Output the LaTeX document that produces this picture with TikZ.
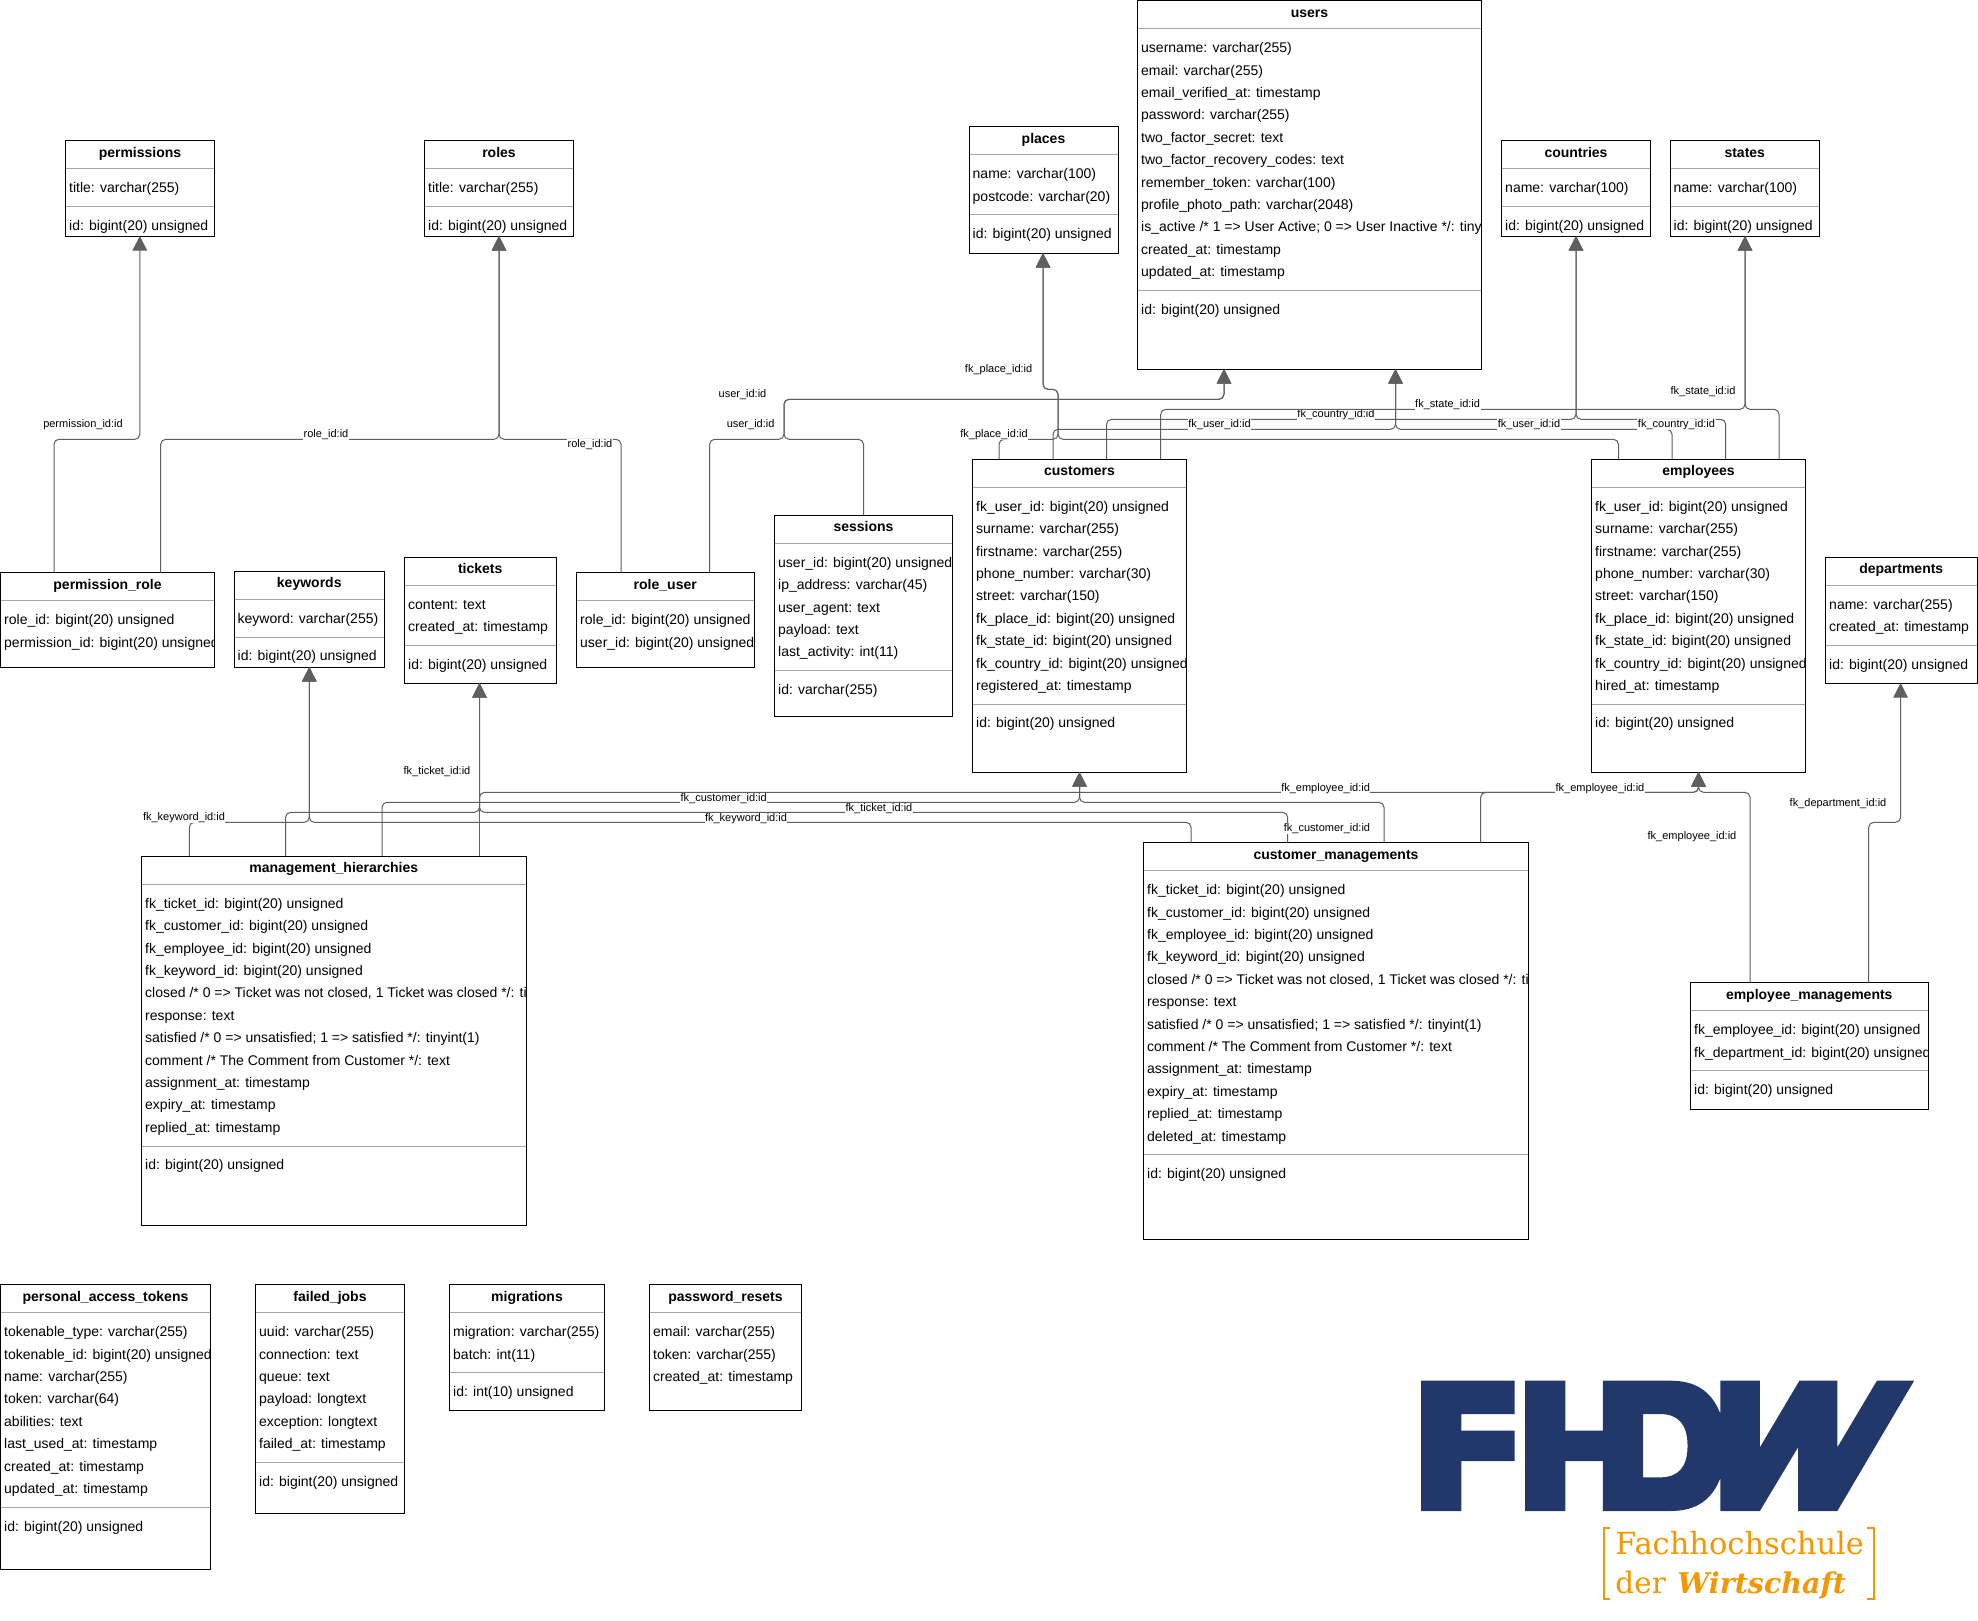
\documentclass[tikz,border=0pt]{standalone}
\usepackage{fontspec}
\setmainfont{Liberation Sans}
\newfontfamily\logofont{DejaVu Serif}
\usetikzlibrary{arrows.meta}
\definecolor{conn}{HTML}{5F5F5F}
\definecolor{sepgray}{HTML}{A6A6A6}
\definecolor{fhblue}{HTML}{22386A}
\definecolor{fhorange}{HTML}{F39800}
\tikzset{
  tablebox/.style={draw=black,line width=1pt,fill=white,inner sep=0pt,outer sep=0pt},
  tabletitle/.style={font=\fontsize{14}{16}\selectfont\bfseries,inner sep=0pt,anchor=base},
  tablefield/.style={font=\fontsize{14}{22.4}\selectfont,align=left,inner sep=0pt,anchor=north west},
  tablesep/.style={draw=sepgray,line width=1pt},
  fkline/.style={draw=conn,line width=1pt,rounded corners=5pt},
  fkarrow/.style={fkline,-{Triangle[length=14.5pt,width=14.5pt,fill=conn]}},
  fklabel/.style={font=\fontsize{11}{13}\selectfont,fill=white,inner xsep=0.5pt,inner ysep=0.3pt,text height=8.2pt,text depth=2.4pt,yshift=-1.5pt},
}
\catcode`\_=12
\newcommand\dbtable[9]{%
  \pgfmathsetmacro\tblw{#4-(#2)}\pgfmathsetmacro\tblh{#5-(#3)}%
  \pgfmathsetmacro\tblcx{(#2+#4)/2}\pgfmathsetmacro\tblcy{(#3+#5)/2}%
  \pgfmathsetmacro\tblsep{#3+47.5+22.4*(#7-1)+18.5}%
  \node[tablebox,minimum width=\tblw pt,minimum height=\tblh pt] (#1) at (\tblcx,\tblcy) {};
  \node[tabletitle] (#1title) at (\tblcx,{#3+16.7}) {#6};
  \draw[tablesep] (#2,{#3+28}) -- (#4,{#3+28});
  \begin{scope}
    \clip (#2,#3) rectangle (#4,#5);
    \node[tablefield] (#1fields) at ({#2+3.5},{#3+37.5}) {\rule{0pt}{14.5pt}#8};
    \if\relax\detokenize{#9}\relax\else
      \node[tablefield] (#1id) at ({#2+3.5},{\tblsep+9}) {\rule{0pt}{14.5pt}#9};
    \fi
  \end{scope}
  \if\relax\detokenize{#9}\relax\else
    \draw[tablesep] (#2,\tblsep) -- (#4,\tblsep);
  \fi
  \draw[black,line width=1pt] (#1.south west) rectangle (#1.north east);
}
\begin{document}
\begin{tikzpicture}[x=1pt,y=-1pt]
\useasboundingbox (0,0) rectangle (1978,1620);
\fill[white] (0,0) rectangle (1978,1620);
\def\bigu{bigint(20) unsigned}
\dbtable{users}{1137.5}{0.5}{1481.5}{369}{users}{11}{username: varchar(255)\\email: varchar(255)\\email_verified_at: timestamp\\password: varchar(255)\\two_factor_secret: text\\two_factor_recovery_codes: text\\remember_token: varchar(100)\\profile_photo_path: varchar(2048)\\is_active /* 1 => User Active; 0 => User Inactive */: tiny\\created_at: timestamp\\updated_at: timestamp}{id: \bigu}
\dbtable{permissions}{65.5}{140.5}{214.5}{236}{permissions}{1}{title: varchar(255)}{id: \bigu}
\dbtable{roles}{424.5}{140.5}{573.5}{236}{roles}{1}{title: varchar(255)}{id: \bigu}
\dbtable{places}{969}{126.5}{1118}{253}{places}{2}{name: varchar(100)\\postcode: varchar(20)}{id: \bigu}
\dbtable{countries}{1501.5}{140.5}{1650.5}{236}{countries}{1}{name: varchar(100)}{id: \bigu}
\dbtable{states}{1670}{140.5}{1819.5}{236}{states}{1}{name: varchar(100)}{id: \bigu}
\dbtable{customers}{972.5}{459}{1186.5}{772}{customers}{9}{fk_user_id: \bigu\\surname: varchar(255)\\firstname: varchar(255)\\phone_number: varchar(30)\\street: varchar(150)\\fk_place_id: \bigu\\fk_state_id: \bigu\\fk_country_id: \bigu\\registered_at: timestamp}{id: \bigu}
\dbtable{employees}{1591.5}{459}{1805.5}{772}{employees}{9}{fk_user_id: \bigu\\surname: varchar(255)\\firstname: varchar(255)\\phone_number: varchar(30)\\street: varchar(150)\\fk_place_id: \bigu\\fk_state_id: \bigu\\fk_country_id: \bigu\\hired_at: timestamp}{id: \bigu}
\dbtable{permissionrole}{0.5}{572.5}{214.5}{667}{permission_role}{2}{role_id: \bigu\\permission_id: \bigu}{}
\dbtable{keywords}{234}{571}{384.5}{667}{keywords}{1}{keyword: varchar(255)}{id: \bigu}
\dbtable{tickets}{404.5}{557}{556}{683}{tickets}{2}{content: text\\created_at: timestamp}{id: \bigu}
\dbtable{roleuser}{576.5}{572.5}{754}{667}{role_user}{2}{role_id: \bigu\\user_id: \bigu}{}
\dbtable{sessions}{774.5}{515}{952.5}{716}{sessions}{5}{user_id: \bigu\\ip_address: varchar(45)\\user_agent: text\\payload: text\\last_activity: int(11)}{id: varchar(255)}
\dbtable{departments}{1825.5}{557}{1977}{683}{departments}{2}{name: varchar(255)\\created_at: timestamp}{id: \bigu}
\dbtable{mh}{141.5}{856}{526}{1225}{management_hierarchies}{11}{fk_ticket_id: \bigu\\fk_customer_id: \bigu\\fk_employee_id: \bigu\\fk_keyword_id: \bigu\\closed /* 0 => Ticket was not closed, 1 Ticket was closed */: ti\\response: text\\satisfied /* 0 => unsatisfied; 1 => satisfied */: tinyint(1)\\comment /* The Comment from Customer */: text\\assignment_at: timestamp\\expiry_at: timestamp\\replied_at: timestamp}{id: \bigu}
\dbtable{cm}{1143.5}{842.5}{1528.5}{1239}{customer_managements}{12}{fk_ticket_id: \bigu\\fk_customer_id: \bigu\\fk_employee_id: \bigu\\fk_keyword_id: \bigu\\closed /* 0 => Ticket was not closed, 1 Ticket was closed */: ti\\response: text\\satisfied /* 0 => unsatisfied; 1 => satisfied */: tinyint(1)\\comment /* The Comment from Customer */: text\\assignment_at: timestamp\\expiry_at: timestamp\\replied_at: timestamp\\deleted_at: timestamp}{id: \bigu}
\dbtable{em}{1690.5}{982.5}{1928}{1109}{employee_managements}{2}{fk_employee_id: \bigu\\fk_department_id: \bigu}{id: \bigu}
\dbtable{pat}{0.5}{1284.5}{210.5}{1569}{personal_access_tokens}{8}{tokenable_type: varchar(255)\\tokenable_id: \bigu\\name: varchar(255)\\token: varchar(64)\\abilities: text\\last_used_at: timestamp\\created_at: timestamp\\updated_at: timestamp}{id: \bigu}
\dbtable{failedjobs}{255.5}{1284.5}{404.5}{1513}{failed_jobs}{6}{uuid: varchar(255)\\connection: text\\queue: text\\payload: longtext\\exception: longtext\\failed_at: timestamp}{id: \bigu}
\dbtable{migrations}{449.5}{1284.5}{604.5}{1410}{migrations}{2}{migration: varchar(255)\\batch: int(11)}{id: int(10) unsigned}
\dbtable{passwordresets}{649.5}{1284.5}{801.5}{1410}{password_resets}{3}{email: varchar(255)\\token: varchar(255)\\created_at: timestamp}{}
% connectors
\draw[fkarrow] (54,0 |- permissionrole.north) -- (54,439.3) -- (139.8,439.3) -- (139.8,0 |- permissions.south);
\draw[fkarrow] (160.7,0 |- permissionrole.north) -- (160.7,439.3) -- (499,439.3) -- (499,0 |- roles.south);
\draw[fkarrow] (621,0 |- roleuser.north) -- (621,439.3) -- (499,439.3) -- (499,0 |- roles.south);
\draw[fkarrow] (709.6,0 |- roleuser.north) -- (709.6,439.3) -- (784,439.3) -- (784,399.3) -- (1224,399.3) -- (1224,0 |- users.south);
\draw[fkarrow] (863.5,0 |- sessions.north) -- (863.5,439.3) -- (784,439.3) -- (784,399.3) -- (1224,399.3) -- (1224,0 |- users.south);
\draw[fkarrow] (999,0 |- customers.north) -- (999,439.3) -- (1058,439.3) -- (1058,389.3) -- (1043,389.3) -- (1043,0 |- places.south);
\draw[fkarrow] (1618.5,0 |- employees.north) -- (1618.5,439.3) -- (1058,439.3) -- (1058,389.3) -- (1043,389.3) -- (1043,0 |- places.south);
\draw[fkarrow] (1053,0 |- customers.north) -- (1053,429.3) -- (1395.5,429.3) -- (1395.5,0 |- users.south);
\draw[fkarrow] (1672,0 |- employees.north) -- (1672,429.3) -- (1395.5,429.3) -- (1395.5,0 |- users.south);
\draw[fkarrow] (1106.5,0 |- customers.north) -- (1106.5,419.3) -- (1576,419.3) -- (1576,0 |- countries.south);
\draw[fkarrow] (1725.7,0 |- employees.north) -- (1725.7,419.3) -- (1576,419.3) -- (1576,0 |- countries.south);
\node[fklabel] (l10) at (1336,413) {fk_country_id:id};
\draw[fkarrow] (1160.7,0 |- customers.north) -- (1160.7,409.3) -- (1745,409.3) -- (1745,0 |- states.south);
\draw[fkarrow] (1779,0 |- employees.north) -- (1779,409.3) -- (1745,409.3) -- (1745,0 |- states.south);
\draw[fkarrow] (189.3,0 |- mh.north) -- (189.3,822.3) -- (309.3,822.3) -- (309.3,0 |- keywords.south);
\draw[fkarrow] (1191,0 |- cm.north) -- (1191,822.3) -- (309.3,822.3) -- (309.3,0 |- keywords.south);
\draw[fkarrow] (479.5,0 |- mh.north) -- (479.5,0 |- tickets.south);
\draw[fkarrow] (1287.6,0 |- cm.north) -- (1287.6,812.3) -- (479.5,812.3) -- (479.5,0 |- tickets.south);
\draw[fkarrow] (382,0 |- mh.north) -- (382,802.3) -- (1079.5,802.3) -- (1079.5,0 |- customers.south);
\draw[fkarrow] (1384,0 |- cm.north) -- (1384,802.3) -- (1079.5,802.3) -- (1079.5,0 |- customers.south);
\draw[fkarrow] (285.6,0 |- mh.north) -- (285.6,812.3) -- (479.5,812.3) -- (479.5,792.3) -- (1698.5,792.3) -- (1698.5,0 |- employees.south);
\draw[fkarrow] (1480.7,0 |- cm.north) -- (1480.7,792.3) -- (1698.5,792.3) -- (1698.5,0 |- employees.south);
\draw[fkarrow] (1750,0 |- em.north) -- (1750,792.3) -- (1698.5,792.3) -- (1698.5,0 |- employees.south);
\draw[fkarrow] (1868.7,0 |- em.north) -- (1868.7,822.3) -- (1900.6,822.3) -- (1900.6,0 |- departments.south);
% labels
\node[fklabel] (l1) at (83,422.7) {permission_id:id};
\node[fklabel] (l2) at (326,433) {role_id:id};
\node[fklabel] (l3) at (590,443) {role_id:id};
\node[fklabel] (l4) at (742.5,393) {user_id:id};
\node[fklabel] (l5) at (750.6,423) {user_id:id};
\node[fklabel] (l6) at (998.6,368) {fk_place_id:id};
\node[fklabel] (l7) at (994,433) {fk_place_id:id};
\node[fklabel] (l8) at (1219.5,423) {fk_user_id:id};
\node[fklabel] (l9) at (1529,423) {fk_user_id:id};
\node[fklabel] (l11) at (1676.5,423) {fk_country_id:id};
\node[fklabel] (l12) at (1447.6,403) {fk_state_id:id};
\node[fklabel] (l13) at (1703,390) {fk_state_id:id};
\node[fklabel] (l14) at (184,816) {fk_keyword_id:id};
\node[fklabel] (l15) at (746,816.7) {fk_keyword_id:id};
\node[fklabel] (l16) at (437,770) {fk_ticket_id:id};
\node[fklabel] (l17) at (879,806.7) {fk_ticket_id:id};
\node[fklabel] (l18) at (723.7,796.7) {fk_customer_id:id};
\node[fklabel] (l19) at (1327,826.7) {fk_customer_id:id};
\node[fklabel] (l20) at (1325.6,786.7) {fk_employee_id:id};
\node[fklabel] (l21) at (1600,786.7) {fk_employee_id:id};
\node[fklabel] (l22) at (1692,835) {fk_employee_id:id};
\node[fklabel] (l23) at (1838,801.7) {fk_department_id:id};
% logo
\begin{scope}[shift={(1400,1360)},x=0.34435pt,y=-0.33333pt]
  \fill[fhblue,even odd rule]
    (61,62) -- (333,62) -- (333,162) -- (178,162) -- (178,212) -- (333,212) -- (333,303) -- (178,303) -- (178,453) -- (61,453) -- cycle
    (363,62) -- (480,62) -- (480,212) -- (589,212) -- (589,62) -- (785,62) .. controls (860,62) and (905,95) .. (930,160) -- (930,62) -- (1045,62) -- (1045,262) -- (1160,62) -- (1270,62) -- (1270,262) -- (1385,62) -- (1493,62) -- (1270,453) -- (1156,453) -- (1156,262) -- (1045,453) -- (930,453) -- (930,355) .. controls (905,420) and (860,453) .. (785,453) -- (589,453) -- (589,303) -- (480,303) -- (480,453) -- (363,453) -- cycle
    (706,162) -- (755,162) .. controls (810,162) and (835,195) .. (835,257) .. controls (835,320) and (810,352) .. (755,352) -- (706,352) -- cycle;
  \draw[fhorange,line width=2pt] (610,504) -- (591,504) -- (591,717) -- (610,717);
  \draw[fhorange,line width=2pt] (1357,504) -- (1376,504) -- (1376,717) -- (1357,717);
  \node[anchor=base west,inner sep=0pt,text=fhorange,font=\logofont\fontsize{30.5}{32}\selectfont] (logoa) at (625,583) {Fachhochschule};
  \node[anchor=base west,inner sep=0pt,text=fhorange,font=\logofont\fontsize{29.5}{32}\selectfont] (logob) at (625,700) {der};
  \node[anchor=base west,inner sep=0pt,text=fhorange,font=\logofont\bfseries\itshape\fontsize{28.5}{30}\selectfont] (logoc) at (805,700) {Wirtschaft};
\end{scope}
\end{tikzpicture}
\end{document}
